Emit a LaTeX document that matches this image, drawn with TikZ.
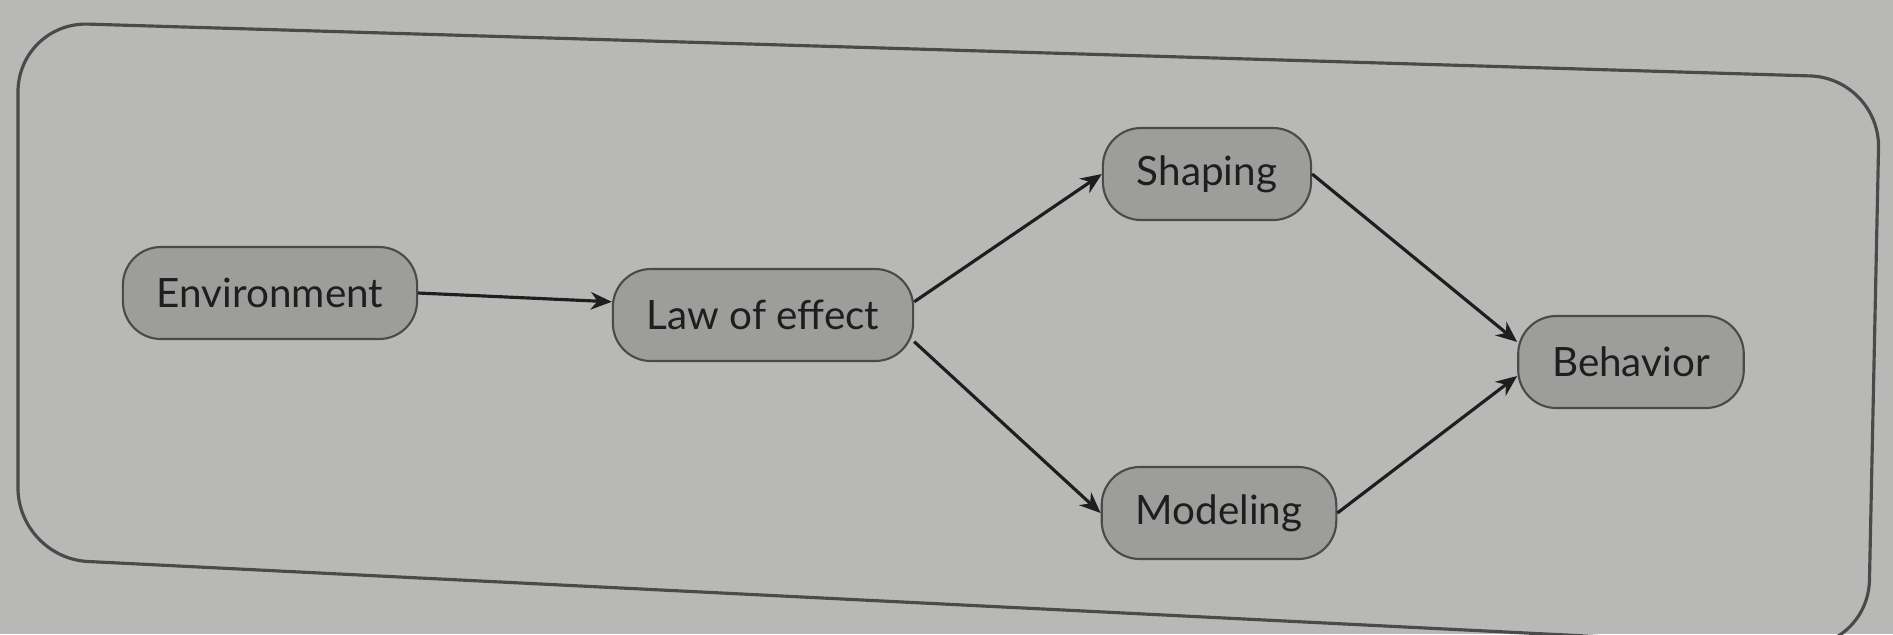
\documentclass[tikz,border=0pt]{standalone}
\usepackage{fontspec}
\setmainfont{Lato}
\usepackage{tikz}
\usetikzlibrary{arrows.meta,positioning}
\definecolor{paper}{HTML}{B8B8B6}
\definecolor{pillgray}{HTML}{9D9D9B}
\definecolor{ink}{HTML}{1E1E1E}
\definecolor{edgegray}{HTML}{4A4A4A}
\tikzset{
  conceptbox/.style={
    rectangle, rounded corners=0.38cm, draw=edgegray, fill=pillgray,
    line width=0.6pt, minimum height=0.92cm, inner xsep=0.34cm,
    font=\fontsize{11.5}{13}\selectfont, text=ink
  },
  flowarrow/.style={
    -{Stealth[length=6pt,width=5pt]}, line width=0.9pt, color=ink
  },
}

\begin{document}
\begin{tikzpicture}
  % Page background
  \fill[paper] (0,0) rectangle (18.93,-6.34);
  \useasboundingbox (0,0) rectangle (18.93,-6.34);

  % Outer frame
  \draw[edgegray, line width=0.9pt, rounded corners=0.7cm]
    (0.18,-0.22) -- (18.80,-0.78) -- (18.68,-6.50) -- (0.18,-5.58) -- cycle;

  % Concepts
  \node[conceptbox] (env) at (2.70,-2.93) {Environment};
  \node[conceptbox] (law) at (7.63,-3.15) {Law of effect};
  \node[conceptbox] (shaping) at (12.07,-1.74) {Shaping};
  \node[conceptbox] (modeling) at (12.19,-5.13) {Modeling};
  \node[conceptbox] (behavior) at (16.31,-3.62) {Behavior};

  % Links
  \draw[flowarrow] (env.east) -- (law.175);
  \draw[flowarrow] (law.5) -- (shaping.west);
  \draw[flowarrow] (law.-10) -- (modeling.west);
  \draw[flowarrow] (shaping.east) -- (behavior.170);
  \draw[flowarrow] (modeling.east) -- (behavior.187);
\end{tikzpicture}
\end{document}
